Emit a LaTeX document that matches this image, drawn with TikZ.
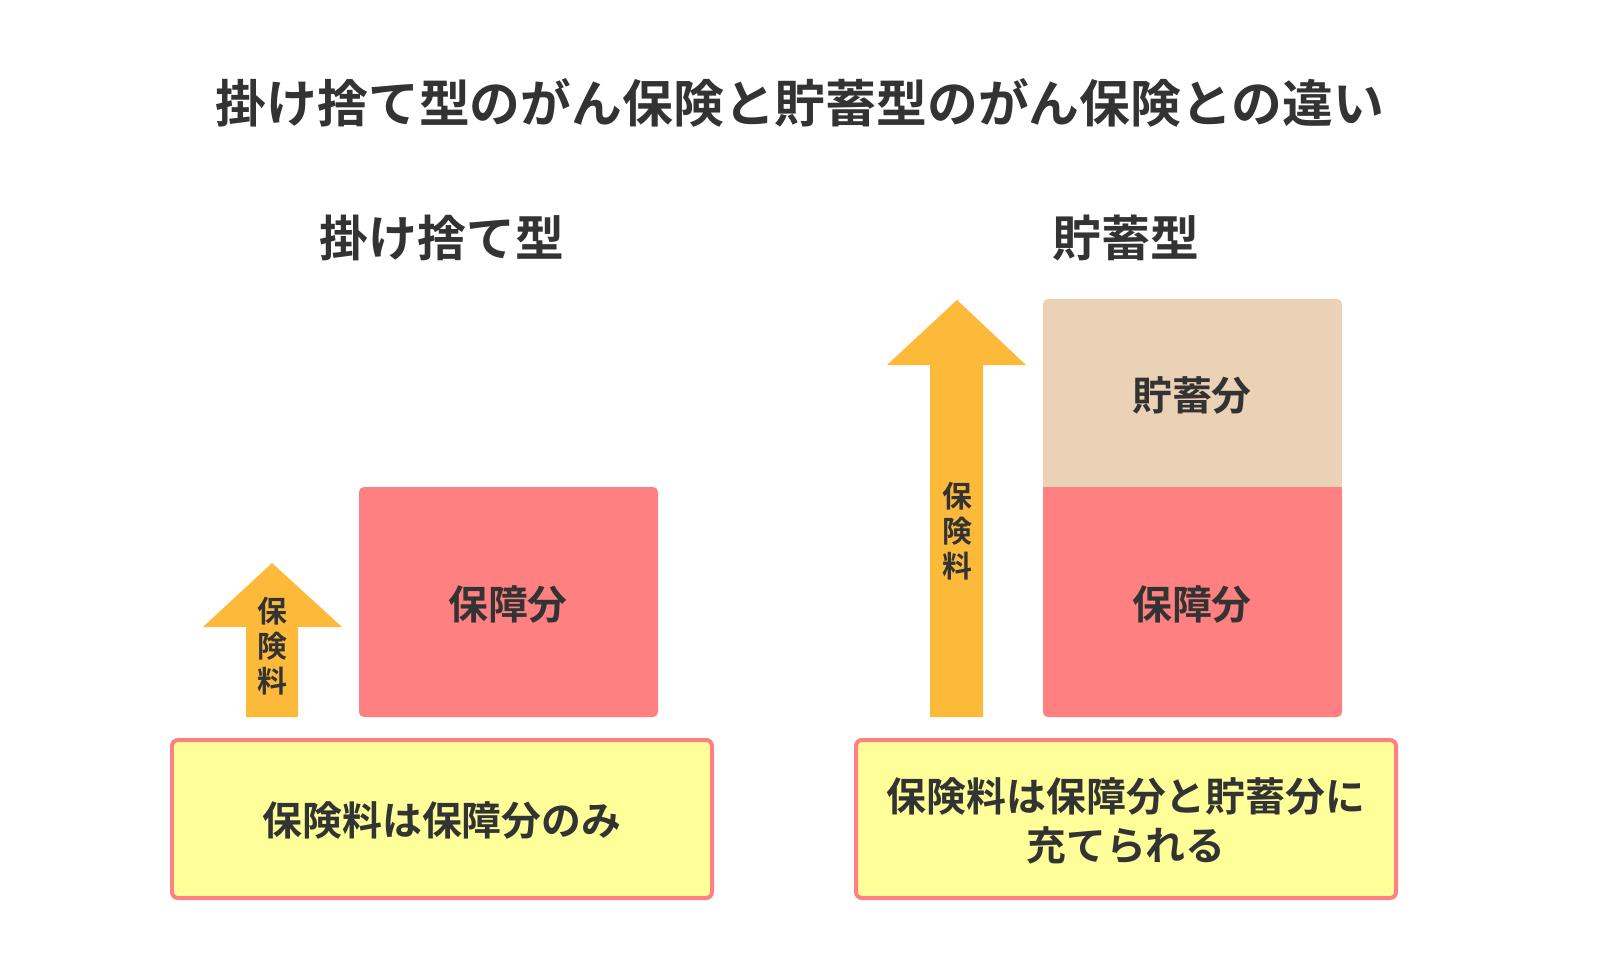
\documentclass[tikz,border=0pt]{standalone}
\usepackage{fontspec}
\setmainfont{Noto Sans CJK JP}[BoldFont={* Bold}]
\definecolor{txt}{HTML}{333333}
\definecolor{arr}{HTML}{FDB93A}
\definecolor{red}{HTML}{FF8080}
\definecolor{beige}{HTML}{EBD1B5}
\definecolor{yel}{HTML}{FFFF99}
\begin{document}
\begin{tikzpicture}[x=1bp,y=-1bp,
  lbl/.style={text=txt,font=\bfseries\fontsize{40}{49}\selectfont,align=center},
  hd/.style={text=txt,font=\bfseries\fontsize{49}{55}\selectfont},
  ttl/.style={text=txt,font=\bfseries\fontsize{51}{55}\selectfont},
  arrtxt/.style={text=txt,font=\bfseries\fontsize{30}{35}\selectfont,align=center},
  ybox/.style={fill=yel,draw=red,line width=4pt,rounded corners=6pt},
  blk/.style={rounded corners=5pt}]
\useasboundingbox[fill=white] (0,0) rectangle (1600,976);
\node[ttl] (title) at (800,103) {掛け捨て型のがん保険と貯蓄型のがん保険との違い};
\node[hd] (h1) at (442,238) {掛け捨て型};
\node[hd] (h2) at (1126,238) {貯蓄型};
% left arrow
\fill[arr] (272,563) -- (342,627) -- (298,627) -- (298,717) -- (246,717) -- (246,627) -- (203,627) -- cycle;
\node[arrtxt] (a1) at (272,646) {保\\険\\料};
\fill[red,blk] (359,487) rectangle (658,717);
\node[lbl] (b1) at (508,604) {保障分};
\draw[ybox] (172,740) rectangle (712,898);
\node[lbl] (y1) at (442,820) {保険料は保障分のみ};
% right arrow
\fill[arr] (957,300) -- (1026,365) -- (983,365) -- (983,717) -- (930,717) -- (930,365) -- (887,365) -- cycle;
\node[arrtxt] (a2) at (957,531) {保\\険\\料};
\fill[beige,rounded corners=5pt] (1043,299) -- (1342,299) -- (1342,487) -- (1043,487) -- cycle;
\fill[red,rounded corners=5pt] (1043,487) -- (1342,487) -- (1342,717) -- (1043,717) -- cycle;
\fill[beige] (1043,470) rectangle (1342,487);
\fill[red] (1043,487) rectangle (1342,500);
\node[lbl] (b2) at (1192,395) {貯蓄分};
\node[lbl] (b3) at (1192,604) {保障分};
\draw[ybox] (856,740) rectangle (1396,898);
\node[lbl] (y2) at (1126,821) {保険料は保障分と貯蓄分に\\充てられる};
\end{tikzpicture}
\end{document}
